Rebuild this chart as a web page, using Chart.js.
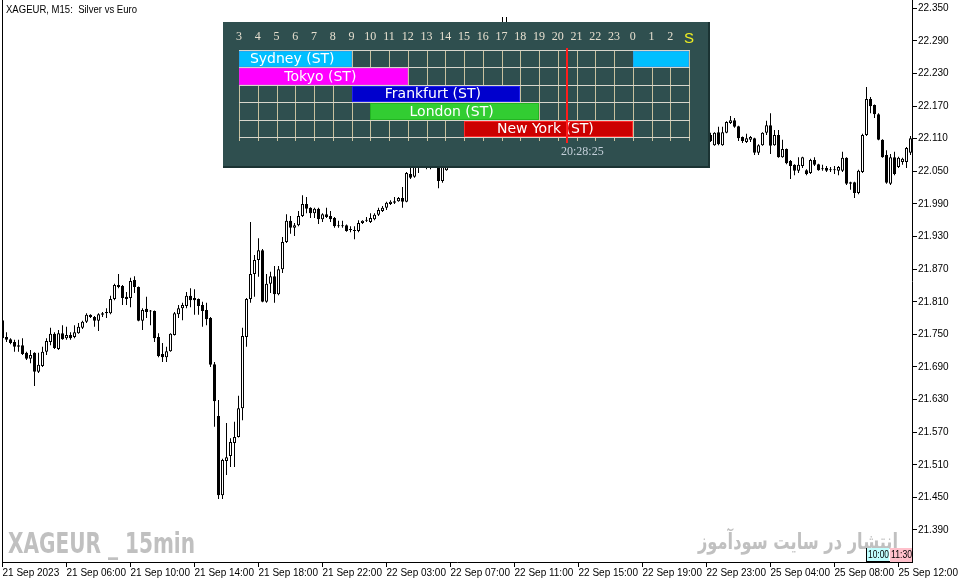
<!DOCTYPE html>
<html>
<head>
<meta charset="utf-8">
<title>XAGEUR M15</title>
<script src="https://cdn.jsdelivr.net/npm/chart.js@4.4.0/dist/chart.umd.min.js"></script>
<style>
  html, body { margin: 0; padding: 0; background: #fff; }
  canvas { display: block; }
</style>
</head>
<body>
<canvas id="chart" width="960" height="584"></canvas>
<script>
const symbol = "XAGEUR, M15:  Silver vs Euro";

// 15 minute bars, 21 Sep 02:00 .. 25 Sep 12:45
const opens = [
  21.776,21.745,21.741,21.736,21.727,21.730,21.716,21.705,21.716,21.681,
  21.692,21.718,21.736,21.751,21.723,21.752,21.743,21.749,21.745,21.752,
  21.762,21.773,21.786,21.782,21.775,21.786,21.789,21.789,21.815,21.841,
  21.839,21.819,21.817,21.850,21.837,21.775,21.797,21.793,21.793,21.745,
  21.714,21.708,21.719,21.749,21.787,21.798,21.802,21.821,21.817,21.815,
  21.804,21.795,21.780,21.695,21.600,21.454,21.517,21.526,21.550,21.561,
  21.614,21.745,21.815,21.861,21.887,21.905,21.810,21.843,21.857,21.824,
  21.870,21.920,21.959,21.946,21.951,21.968,21.990,21.983,21.973,21.981,
  21.962,21.971,21.968,21.964,21.951,21.949,21.951,21.942,21.942,21.940,
  21.955,21.959,21.957,21.962,21.970,21.977,21.983,21.990,21.992,21.995,
  22.001,21.994,22.045,22.040,22.071,22.062,22.075,22.065,22.069,22.078,
  22.032,22.052,22.075,22.093,22.086,22.122,22.148,22.181,22.167,22.211,
  22.236,22.222,22.259,22.277,22.266,22.303,22.310,22.292,22.270,22.283,
  22.255,22.233,22.248,22.218,22.196,22.207,22.189,22.200,22.174,22.159,
  22.181,22.192,22.170,22.148,22.163,22.185,22.174,22.189,22.167,22.144,
  22.152,22.133,22.148,22.167,22.155,22.178,22.189,22.170,22.159,22.174,
  22.152,22.137,22.148,22.133,22.119,22.130,22.144,22.133,22.115,22.126,
  22.141,22.130,22.111,22.122,22.108,22.119,22.111,22.117,22.098,22.122,
  22.098,22.121,22.139,22.144,22.133,22.113,22.104,22.108,22.111,22.084,
  22.098,22.121,22.135,22.098,22.117,22.076,22.091,22.069,22.062,22.051,
  22.060,22.052,22.047,22.071,22.063,22.054,22.056,22.052,22.052,22.051,
  22.051,22.075,22.030,22.030,22.010,22.049,22.117,22.183,22.172,22.155,
  22.108,22.080,22.027,22.076,22.058,22.067,22.067,22.084
];
const highs = [
  21.780,21.754,21.743,21.740,21.740,21.743,21.718,21.721,21.717,21.716,
  21.727,21.743,21.762,21.754,21.758,21.767,21.764,21.754,21.767,21.771,
  21.775,21.789,21.787,21.784,21.789,21.791,21.798,21.821,21.843,21.861,
  21.841,21.828,21.854,21.857,21.838,21.798,21.819,21.795,21.794,21.752,
  21.734,21.727,21.752,21.791,21.804,21.808,21.828,21.835,21.833,21.816,
  21.810,21.808,21.782,21.699,21.629,21.521,21.587,21.559,21.589,21.637,
  21.762,21.817,21.957,21.896,21.927,21.907,21.861,21.865,21.876,21.876,
  21.929,21.971,21.968,21.955,21.977,22.006,22.003,21.984,21.983,21.983,
  21.973,21.983,21.977,21.966,21.959,21.959,21.952,21.949,21.949,21.960,
  21.960,21.966,21.973,21.973,21.983,21.986,21.994,21.997,22.003,22.003,
  22.021,22.049,22.058,22.080,22.086,22.089,22.086,22.078,22.089,22.086,
  22.071,22.082,22.104,22.108,22.130,22.163,22.192,22.200,22.222,22.255,
  22.248,22.273,22.292,22.292,22.314,22.334,22.334,22.310,22.295,22.288,
  22.264,22.255,22.251,22.225,22.214,22.218,22.207,22.203,22.185,22.189,
  22.203,22.200,22.178,22.170,22.192,22.196,22.200,22.192,22.174,22.163,
  22.159,22.155,22.174,22.178,22.185,22.200,22.196,22.181,22.181,22.178,
  22.159,22.155,22.152,22.141,22.137,22.152,22.155,22.141,22.133,22.148,
  22.152,22.137,22.130,22.130,22.126,22.130,22.126,22.121,22.122,22.132,
  22.132,22.142,22.152,22.148,22.134,22.114,22.119,22.115,22.112,22.100,
  22.122,22.143,22.157,22.126,22.126,22.108,22.092,22.071,22.063,22.076,
  22.077,22.054,22.073,22.076,22.064,22.062,22.060,22.058,22.060,22.060,
  22.086,22.076,22.031,22.031,22.053,22.119,22.205,22.187,22.173,22.157,
  22.109,22.089,22.082,22.086,22.077,22.075,22.095,22.115
];
const lows = [
  21.740,21.736,21.732,21.718,21.718,21.712,21.703,21.697,21.655,21.679,
  21.690,21.712,21.730,21.723,21.721,21.740,21.740,21.740,21.743,21.751,
  21.760,21.771,21.780,21.764,21.756,21.782,21.780,21.787,21.813,21.835,
  21.804,21.804,21.800,21.826,21.774,21.758,21.780,21.767,21.736,21.708,
  21.699,21.699,21.718,21.748,21.780,21.776,21.798,21.800,21.786,21.786,
  21.764,21.767,21.690,21.580,21.447,21.447,21.491,21.506,21.506,21.560,
  21.592,21.727,21.808,21.819,21.856,21.809,21.808,21.826,21.808,21.822,
  21.863,21.918,21.935,21.931,21.949,21.966,21.973,21.964,21.964,21.953,
  21.957,21.964,21.957,21.946,21.946,21.946,21.939,21.938,21.925,21.938,
  21.953,21.957,21.955,21.960,21.968,21.975,21.979,21.988,21.990,21.994,
  21.983,21.993,22.036,22.038,22.047,22.060,22.054,22.054,22.060,22.019,
  22.029,22.051,22.067,22.056,22.080,22.115,22.141,22.155,22.163,22.203,
  22.200,22.218,22.248,22.255,22.262,22.284,22.281,22.259,22.251,22.244,
  22.222,22.225,22.209,22.189,22.185,22.178,22.181,22.163,22.148,22.155,
  22.174,22.163,22.141,22.137,22.155,22.167,22.167,22.155,22.133,22.137,
  22.126,22.126,22.141,22.148,22.148,22.170,22.159,22.148,22.152,22.141,
  22.126,22.130,22.122,22.108,22.111,22.122,22.126,22.108,22.104,22.119,
  22.122,22.100,22.104,22.097,22.100,22.104,22.108,22.104,22.097,22.098,
  22.097,22.120,22.137,22.130,22.106,22.102,22.102,22.104,22.080,22.080,
  22.097,22.117,22.082,22.097,22.075,22.075,22.063,22.036,22.043,22.047,
  22.056,22.043,22.045,22.060,22.051,22.051,22.049,22.049,22.045,22.043,
  22.049,22.025,22.016,22.001,22.008,22.047,22.115,22.157,22.148,22.107,
  22.075,22.027,22.025,22.043,22.056,22.062,22.056,22.080
];
const closes = [
  21.743,21.740,21.734,21.727,21.730,21.714,21.705,21.712,21.681,21.694,
  21.718,21.738,21.751,21.725,21.752,21.741,21.749,21.743,21.754,21.764,
  21.773,21.786,21.782,21.775,21.787,21.789,21.791,21.815,21.841,21.837,
  21.817,21.815,21.848,21.837,21.775,21.795,21.791,21.792,21.743,21.710,
  21.708,21.719,21.751,21.789,21.798,21.804,21.821,21.813,21.813,21.802,
  21.793,21.778,21.694,21.627,21.454,21.519,21.524,21.552,21.561,21.614,
  21.747,21.815,21.861,21.887,21.905,21.810,21.843,21.857,21.824,21.870,
  21.920,21.959,21.946,21.951,21.968,21.990,21.981,21.973,21.981,21.962,
  21.971,21.966,21.962,21.949,21.949,21.950,21.940,21.942,21.940,21.955,
  21.959,21.960,21.964,21.970,21.979,21.983,21.992,21.994,21.995,22.001,
  21.994,22.047,22.038,22.071,22.062,22.075,22.065,22.069,22.078,22.032,
  22.062,22.075,22.093,22.086,22.122,22.148,22.181,22.167,22.211,22.236,
  22.222,22.259,22.277,22.266,22.303,22.310,22.292,22.270,22.283,22.255,
  22.233,22.248,22.218,22.196,22.207,22.189,22.200,22.174,22.159,22.181,
  22.192,22.170,22.148,22.163,22.185,22.174,22.189,22.167,22.144,22.152,
  22.133,22.148,22.167,22.155,22.178,22.189,22.170,22.159,22.174,22.152,
  22.137,22.148,22.133,22.119,22.130,22.144,22.133,22.115,22.126,22.141,
  22.130,22.111,22.122,22.108,22.119,22.111,22.115,22.106,22.121,22.100,
  22.122,22.141,22.144,22.132,22.111,22.106,22.111,22.113,22.084,22.098,
  22.121,22.135,22.097,22.117,22.076,22.091,22.065,22.060,22.051,22.062,
  22.076,22.045,22.071,22.062,22.052,22.054,22.051,22.052,22.052,22.058,
  22.075,22.027,22.027,22.010,22.051,22.117,22.183,22.170,22.155,22.108,
  22.076,22.029,22.076,22.045,22.075,22.073,22.093,22.111
];

// time axis: bar index -> label
const timeIdx = [0, 16, 32, 48, 64, 80, 96, 112, 128, 144, 160, 176, 192, 208, 224];
const timeLabels = [
  "21 Sep 2023", "21 Sep 06:00", "21 Sep 10:00", "21 Sep 14:00", "21 Sep 18:00",
  "21 Sep 22:00", "22 Sep 03:00", "22 Sep 07:00", "22 Sep 11:00", "22 Sep 15:00",
  "22 Sep 19:00", "22 Sep 23:00", "25 Sep 04:00", "25 Sep 08:00", "25 Sep 12:00"
];
const priceTicks = [
  22.350, 22.290, 22.230, 22.170, 22.110, 22.050, 21.990, 21.930,
  21.870, 21.810, 21.750, 21.690, 21.630, 21.570, 21.510, 21.450, 21.390
];

// sessions indicator
const panelHours = ["3","4","5","6","7","8","9","10","11","12","13","14","15","16","17","18","19","20","21","22","23","0","1","2"];
const sessionNames = ["Sydney (ST)", "Tokyo (ST)", "Frankfurt (ST)", "London (ST)", "New York (ST)"];
const sessionStart = [0, 3, 9, 10, 15];
const sessionEnd = [9, 12, 18, 19, 24];
const clockTime = "20:28:25";

const bodies = opens.map((o, i) => ({ x: i, y: [o, closes[i]] }));
const wicks = lows.map((l, i) => ({ x: i, y: [l, highs[i]] }));
const bodyColors = opens.map((o, i) => closes[i] >= o ? "#fff" : "#000");

const sessionFill = ["#00bfff", "#ff00ff", "#0000cd", "#32cd32", "#cc0000"];
const sessionEdge = ["#1ea8f0", "#f020f0", "#2020ee", "#22b422", "#ff2a2a"];

function drawSessions(c) {
  const px = 223, py = 22, pw = 487, ph = 146;
  const gx = (col) => 239 + col * 18.75;
  const gy = (row) => 50 + row * 17.4;

  c.fillStyle = "#2f4f4f";
  c.fillRect(px, py, pw, ph);
  c.fillStyle = "#1b3333";
  c.fillRect(px, py + ph - 2, pw, 2);
  c.fillRect(px + pw - 2, py, 2, ph);

  // grid
  c.lineWidth = 1;
  c.strokeStyle = "#c9c19f";
  for (let i = 0; i <= 24; i++) {
    const x = Math.round(gx(i)) + 0.5;
    c.beginPath(); c.moveTo(x, 50); c.lineTo(x, 141); c.stroke();
  }
  c.strokeStyle = "#d8d6cc";
  for (let r = 0; r <= 5; r++) {
    const y = Math.round(gy(r)) + 0.5;
    c.beginPath(); c.moveTo(Math.round(gx(0)), y); c.lineTo(Math.round(gx(24)) + 1, y); c.stroke();
  }

  // hour labels
  c.textAlign = "center";
  c.textBaseline = "middle";
  c.font = "12px 'Liberation Serif', 'Times New Roman', serif";
  c.fillStyle = "#e6dfcf";
  panelHours.forEach((h, i) => c.fillText(h, gx(i), 37));
  c.font = "15px 'Liberation Sans', Arial, sans-serif";
  c.fillStyle = "#eeee22";
  c.fillText("S", gx(24), 39);

  // session bars
  c.font = "14px 'DejaVu Sans', sans-serif";
  sessionNames.forEach((name, i) => {
    const a = (sessionStart[i] - 3 + 24) % 24;
    let b = (sessionEnd[i] - 3 + 24) % 24;
    if (b === 0) b = 24;
    const segs = a < b ? [[a, b]] : [[a, 24], [0, b]];
    const y0 = Math.round(gy(i)) + 1;
    const y1 = Math.round(gy(i + 1));
    let main = segs[0];
    segs.forEach(([s, e]) => {
      if (e - s > main[1] - main[0]) main = [s, e];
      const x0 = Math.round(gx(s)), x1 = Math.round(gx(e));
      c.fillStyle = sessionFill[i];
      c.fillRect(x0, y0, x1 - x0, y1 - y0);
      c.strokeStyle = sessionEdge[i];
      c.strokeRect(x0 + 0.5, y0 + 0.5, x1 - x0 - 1, y1 - y0 - 1);
    });
    c.fillStyle = "#fff";
    c.fillText(name, (gx(main[0]) + gx(main[1])) / 2 - 3, (y0 + y1) / 2 + 0.5);
  });

  // current time marker
  const t = clockTime.split(":").map(Number);
  const hr = t[0] + t[1] / 60 + t[2] / 3600;
  const rx = Math.round(gx((hr - 3 + 24) % 24));
  c.fillStyle = "#ff1c1c";
  c.fillRect(rx - 1, 48, 2, 95);
  c.font = "12px 'Liberation Serif', 'Times New Roman', serif";
  c.fillStyle = "#c4d0da";
  c.textAlign = "left";
  c.fillText(clockTime, rx - 6, 152);
}

const frame = {
  id: "frame",
  beforeDraw(chart) {
    const c = chart.ctx;
    c.save();
    c.fillStyle = "#fff";
    c.fillRect(0, 0, chart.width, chart.height);
    c.restore();
  },
  afterDraw(chart) {
    const c = chart.ctx;
    const a = chart.chartArea;
    c.save();
    c.fillStyle = "#000";
    c.fillRect(2, 0, 1, Math.round(a.bottom) + 1);

    c.font = "10px 'Liberation Sans', Arial, sans-serif";
    c.textAlign = "left";
    c.textBaseline = "middle";
    c.fillText(symbol, 6, 10.5, 131);

    // watermarks
    c.fillStyle = "#c0c0c0";
    c.textBaseline = "alphabetic";
    c.font = "bold 28px 'Liberation Sans Narrow', 'DejaVu Sans Condensed', sans-serif";
    c.fillText("XAGEUR _ 15min", 8, 553, 187);
    c.textAlign = "right";
    c.font = "bold 22px 'DejaVu Sans', sans-serif";
    c.fillText("انتشار در سایت سودآموز", 898, 549, 200);

    // period separators labels
    c.fillStyle = "#c0ffff";
    c.fillRect(867, 548, 22, 14);
    c.fillStyle = "#ffc0cb";
    c.fillRect(890, 548, 22, 14);
    c.fillStyle = "#000";
    c.fillRect(866, 548, 1, 14);
    c.fillRect(866, 561, 24, 1);
    c.font = "10px 'Liberation Sans', Arial, sans-serif";
    c.textAlign = "left";
    c.textBaseline = "middle";
    c.fillText("10:00", 868, 555, 21);
    c.save();
    c.beginPath(); c.rect(890, 548, 22, 14); c.clip();
    c.fillText("11:30", 891, 555, 21);
    c.restore();

    drawSessions(c);
    c.restore();
  }
};

const tickFont = { family: "'Liberation Sans', Arial, sans-serif", size: 10 };

new Chart(document.getElementById("chart"), {
  type: "bar",
  data: {
    datasets: [
      {
        label: "body", data: bodies, order: 0, grouped: false,
        barThickness: 3, minBarLength: 1, inflateAmount: 0,
        borderWidth: 1, borderColor: "#000", borderSkipped: false,
        backgroundColor: bodyColors
      },
      {
        label: "wick", data: wicks, order: 1, grouped: false,
        barThickness: 1, minBarLength: 1, inflateAmount: 0,
        borderWidth: 0, backgroundColor: "#000"
      }
    ]
  },
  options: {
    responsive: false,
    animation: false,
    devicePixelRatio: 1,
    layout: { padding: { left: 2, right: 0, top: 0, bottom: 0 } },
    plugins: { legend: { display: false }, tooltip: { enabled: false } },
    scales: {
      x: {
        type: "linear", min: -0.125, max: 227.375, offset: false,
        grid: { offset: false, drawOnChartArea: false, drawTicks: true, tickLength: 5, color: "#000" },
        border: { display: true, color: "#000" },
        ticks: {
          autoSkip: false, maxRotation: 0, align: "start", padding: 0,
          color: "#000", font: tickFont,
          callback: (v) => timeLabels[timeIdx.indexOf(v)]
        },
        afterBuildTicks: (s) => { s.ticks = timeIdx.map((v) => ({ value: v })); },
        afterFit: (s) => { s.height = 22; s.paddingLeft = 0; s.paddingRight = 0; }
      },
      y: {
        type: "linear", position: "right", min: 21.3311, max: 22.3653,
        grid: { drawOnChartArea: false, drawTicks: true, tickLength: 5, color: "#000" },
        border: { display: true, color: "#000" },
        ticks: {
          autoSkip: false, padding: 1, color: "#000", font: tickFont,
          callback: (v) => v.toFixed(3)
        },
        afterBuildTicks: (s) => { s.ticks = priceTicks.map((v) => ({ value: v })); },
        afterFit: (s) => { s.width = 48; s.paddingTop = 0; s.paddingBottom = 0; }
      }
    }
  },
  plugins: [frame]
});
</script>
</body>
</html>
